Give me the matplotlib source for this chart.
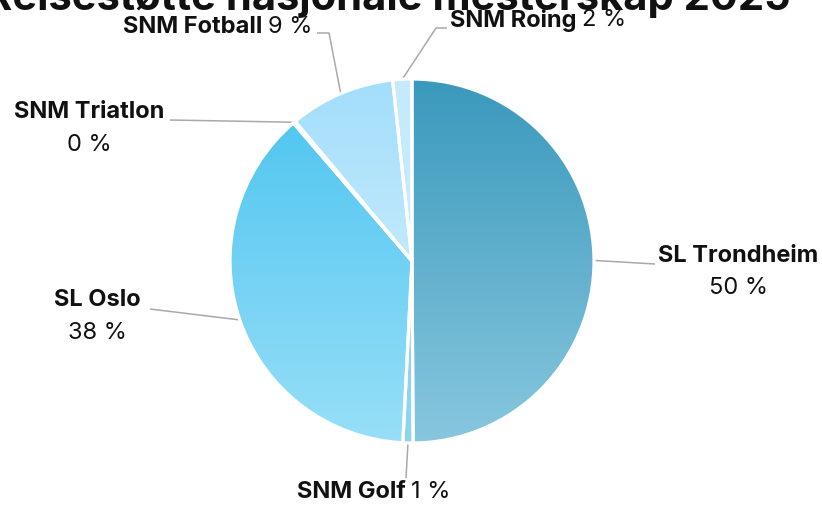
import numpy as np
import matplotlib
matplotlib.use("Agg")
import matplotlib.pyplot as plt
from matplotlib.colors import to_rgb

plt.rcParams['font.family'] = ['Inter', 'DejaVu Sans']

title = "Reisestøtte nasjonale mesterskap 2025"
names = ["SL Trondheim", "SNM Golf", "SL Oslo", "SNM Triatlon", "SNM Fotball", "SNM Roing"]
values = [49.9, 0.9, 37.9, 0.2, 9.4, 1.7]
pct_labels = ["50 %", "1 %", "38 %", "0 %", "9 %", "2 %"]
top_colors = ["#3a99bc", "#8bd2ee", "#49c3ef", "#49c3ef", "#a2defb", "#c4eafc"]
bottom_colors = ["#88c7de", "#8fd5ef", "#98dff8", "#98dff8", "#e2f4fe", "#cbedfc"]

W, H = 822, 505
fig = plt.figure(figsize=(W / 100, H / 100), dpi=100)
ax = fig.add_axes([0, 0, 1, 1])


def Y(y):
    # pixel row from the top -> data y
    return H - y


cx, cy, r = 412, Y(261), 182

wedges, _ = ax.pie(values, center=(cx, cy), radius=r, startangle=90,
                   counterclock=False,
                   wedgeprops=dict(facecolor='none', edgecolor='white',
                                   linewidth=2.3, zorder=3))

# vertical gradient in every slice
for w, c0, c1 in zip(wedges, top_colors, bottom_colors):
    t = np.linspace(0, 1, 256)[:, None]
    grad = (1 - t) * np.array(to_rgb(c0)) + t * np.array(to_rgb(c1))
    im = ax.imshow(grad[:, None, :], extent=(cx - r, cx + r, cy - r, cy + r),
                   origin='upper', aspect='auto', interpolation='bilinear', zorder=2)
    im.set_clip_path(w)

ax.set_xlim(0, W)
ax.set_ylim(0, H)
ax.set_aspect('auto')
ax.axis('off')

# leader lines: from slice edge (mid angle) to the label elbow
elbows = {
    "SL Trondheim": [(655, 264)],
    "SNM Golf": [(406, 478)],
    "SL Oslo": [(150, 309)],
    "SNM Triatlon": [(170, 120)],
    "SNM Fotball": [(329, 33), (317, 33)],
    "SNM Roing": [(436, 28), (447, 28)],
}
for w, name in zip(wedges, names):
    mid = np.deg2rad((w.theta1 + w.theta2) / 2)
    px, py = cx + r * np.cos(mid), cy + r * np.sin(mid)
    xs = [px] + [e[0] for e in elbows[name]]
    ys = [py] + [Y(e[1]) for e in elbows[name]]
    ax.plot(xs, ys, color='#a9a9a9', lw=1.1, zorder=1, solid_capstyle='butt')

fs = 17
# two-line labels (name bold, percent below)
two_line = {"SL Trondheim": (738, 256, 288), "SL Oslo": (97, 300, 333),
            "SNM Triatlon": (89, 112, 145)}
for name, pct in zip(names, pct_labels):
    if name in two_line:
        x, y1, y2 = two_line[name]
        ax.text(x, Y(y1), name, ha='center', va='center', fontsize=fs,
                fontweight='bold', color='#111111')
        ax.text(x, Y(y2), pct, ha='center', va='center', fontsize=fs,
                color='#111111')

fig.canvas.draw()
rend = fig.canvas.get_renderer()
inv = ax.transData.inverted()


def inline_label(name, pct, x, y, align):
    # name in bold followed by the percent, aligned left or right at x
    gap = 5
    if align == 'left':
        t1 = ax.text(x, Y(y), name, ha='left', va='center', fontsize=fs,
                     fontweight='bold', color='#111111')
        bb = t1.get_window_extent(rend)
        x2 = inv.transform((bb.x1, 0))[0] + gap
        ax.text(x2, Y(y), pct, ha='left', va='center', fontsize=fs, color='#111111')
    else:
        t2 = ax.text(x, Y(y), pct, ha='right', va='center', fontsize=fs, color='#111111')
        bb = t2.get_window_extent(rend)
        x1 = inv.transform((bb.x0, 0))[0] - gap
        ax.text(x1, Y(y), name, ha='right', va='center', fontsize=fs,
                fontweight='bold', color='#111111')


inline_label("SNM Fotball", "9 %", 312, 27, 'right')
inline_label("SNM Roing", "2 %", 450, 20, 'left')
inline_label("SNM Golf", "1 %", 297, 492, 'left')

ax.text(388, Y(10), title, ha='center', va='baseline', fontsize=30,
        fontweight='bold', color='#111111')

fig.savefig("out.png", dpi=100)
